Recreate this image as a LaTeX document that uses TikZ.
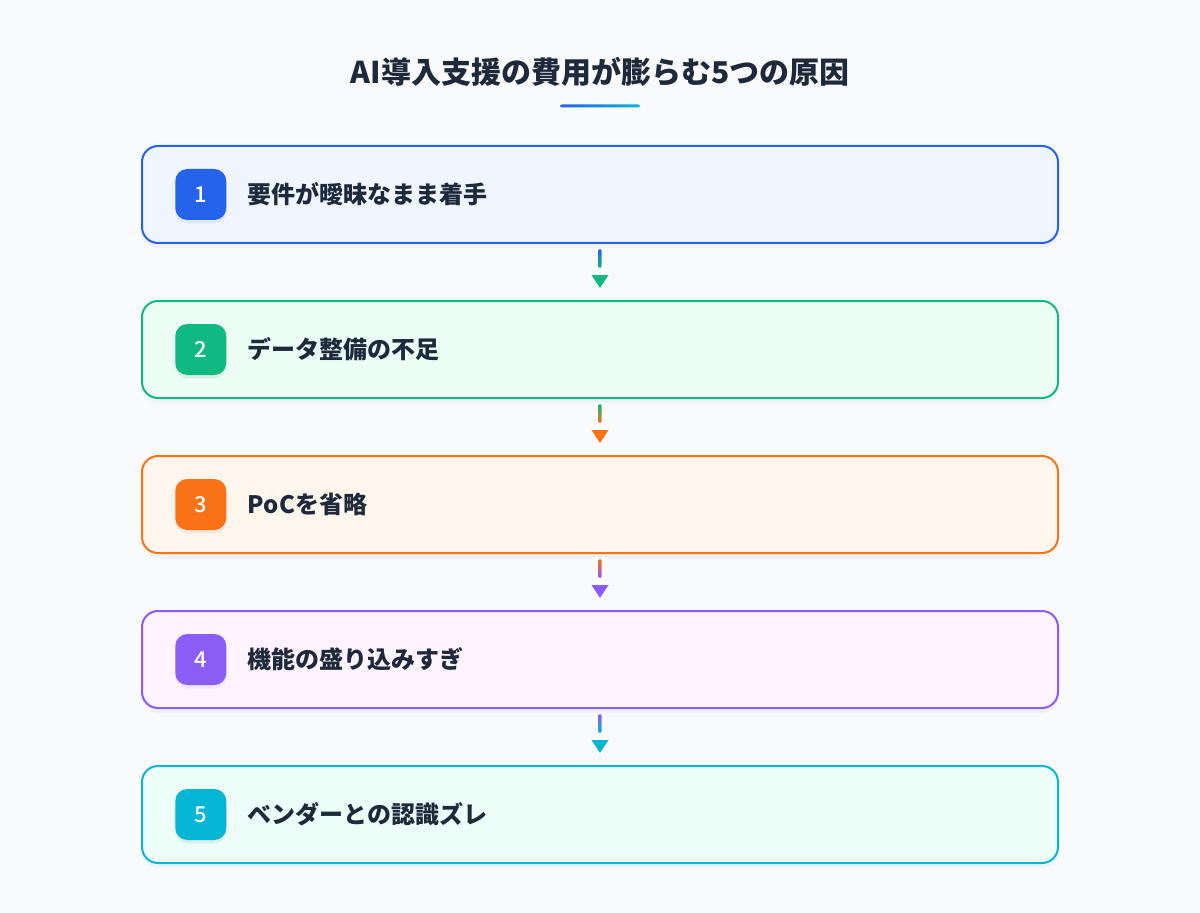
\documentclass[tikz,border=0pt]{standalone}
\usepackage{fontspec}
\setmainfont{Noto Sans CJK JP}
\newfontfamily\medfont{Noto Sans CJK JP Medium}
\usetikzlibrary{positioning,calc,shadows}
\definecolor{bg}{HTML}{F8FAFC}
\definecolor{ink}{HTML}{1E293B}
\definecolor{c1}{HTML}{2563EB}
\definecolor{c2}{HTML}{10B981}
\definecolor{c3}{HTML}{F97316}
\definecolor{c4}{HTML}{8B5CF6}
\definecolor{c5}{HTML}{06B6D4}
\definecolor{f1}{HTML}{EFF6FF}
\definecolor{f2}{HTML}{ECFDF5}
\definecolor{f3}{HTML}{FFF7ED}
\definecolor{f4}{HTML}{FDF4FF}
\definecolor{f5}{HTML}{EDFDF7}
\begin{document}
\begin{tikzpicture}[x=0.75pt,y=-0.75pt,
    box/.style={line width=1.5pt, rounded corners=12pt, minimum width=687pt, minimum height=72.75pt,
        drop shadow={opacity=0.07, shadow xshift=0pt, shadow yshift=-3.5pt}},
    badge/.style={rounded corners=9pt, minimum size=38.25pt, inner sep=0pt, text=white,
        font=\fontsize{16.5}{16.5}\medfont,
        drop shadow={opacity=0.12, shadow xshift=0pt, shadow yshift=-2.5pt}},
    itemtext/.style={inner sep=0pt, text=ink, font=\fontsize{18}{18}\selectfont\bfseries}]
    \fill[bg] (0,0) rectangle (1200,913);
    \useasboundingbox (0,0) rectangle (1200,913);

    \node (title) [text=ink, font=\fontsize{22.5}{22.5}\selectfont\bfseries] at (600,72) {AI導入支援の費用が膨らむ5つの原因};
    \shade[left color=c1, right color=c5, rounded corners=1.5pt] (560,104.5) rectangle (640,107.5);

    \node (b1) [box, draw=c1, fill=f1] at (600,194.5) {};
    \node (n1) [badge, fill=c1, right=25.5pt of b1.west] {1};
    \node (t1) [itemtext, right=15.75pt of n1] {要件が曖昧なまま着手};

    \node (b2) [box, draw=c2, fill=f2] at (600,349.5) {};
    \node (n2) [badge, fill=c2, right=25.5pt of b2.west] {2};
    \node (t2) [itemtext, right=15.75pt of n2] {データ整備の不足};

    \node (b3) [box, draw=c3, fill=f3] at (600,504.5) {};
    \node (n3) [badge, fill=c3, right=25.5pt of b3.west] {3};
    \node (t3) [itemtext, right=15.75pt of n3] {PoCを省略};

    \node (b4) [box, draw=c4, fill=f4] at (600,659.5) {};
    \node (n4) [badge, fill=c4, right=25.5pt of b4.west] {4};
    \node (t4) [itemtext, right=15.75pt of n4] {機能の盛り込みすぎ};

    \node (b5) [box, draw=c5, fill=f5] at (600,814.5) {};
    \node (n5) [badge, fill=c5, right=25.5pt of b5.west] {5};
    \node (t5) [itemtext, right=15.75pt of n5] {ベンダーとの認識ズレ};

    \shade[top color=c1, bottom color=c2, rounded corners=1pt] ($(b1.south)+(-1.5,5)$) rectangle ($(b1.south)+(1.5,24)$);
    \fill[c2] ($(b2.north)+(-8.5,-25)$) -- ($(b2.north)+(8.5,-25)$) -- ($(b2.north)+(0,-12)$) -- cycle;
    \shade[top color=c2, bottom color=c3, rounded corners=1pt] ($(b2.south)+(-1.5,5)$) rectangle ($(b2.south)+(1.5,24)$);
    \fill[c3] ($(b3.north)+(-8.5,-25)$) -- ($(b3.north)+(8.5,-25)$) -- ($(b3.north)+(0,-12)$) -- cycle;
    \shade[top color=c3, bottom color=c4, rounded corners=1pt] ($(b3.south)+(-1.5,5)$) rectangle ($(b3.south)+(1.5,24)$);
    \fill[c4] ($(b4.north)+(-8.5,-25)$) -- ($(b4.north)+(8.5,-25)$) -- ($(b4.north)+(0,-12)$) -- cycle;
    \shade[top color=c4, bottom color=c5, rounded corners=1pt] ($(b4.south)+(-1.5,5)$) rectangle ($(b4.south)+(1.5,24)$);
    \fill[c5] ($(b5.north)+(-8.5,-25)$) -- ($(b5.north)+(8.5,-25)$) -- ($(b5.north)+(0,-12)$) -- cycle;
\end{tikzpicture}
\end{document}
